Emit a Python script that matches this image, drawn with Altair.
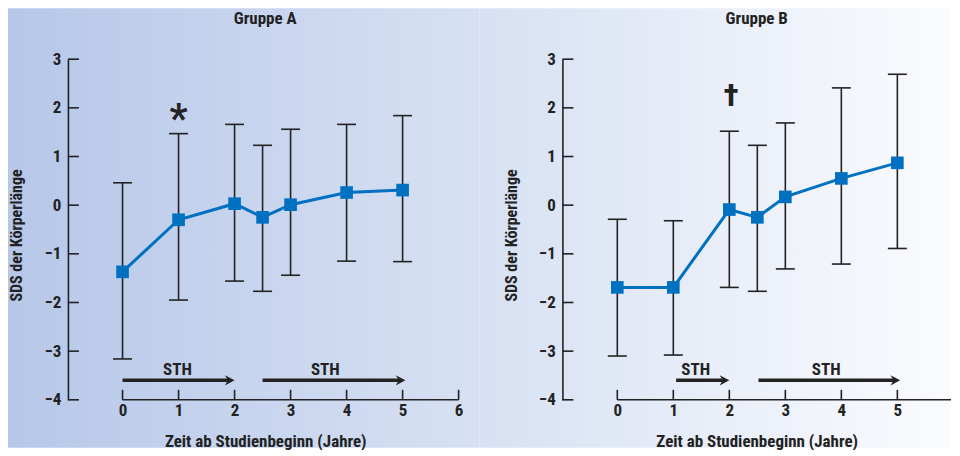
import altair as alt
import pandas as pd

# ---------------- data ----------------
years = [0, 1, 2, 2.5, 3, 4, 5]

mean_a = [-1.37, -0.30, 0.03, -0.25, 0.01, 0.26, 0.31]
lo_a = [-3.16, -1.95, -1.56, -1.77, -1.44, -1.15, -1.16]
hi_a = [0.46, 1.47, 1.66, 1.23, 1.56, 1.66, 1.84]

mean_b = [-1.69, -1.69, -0.09, -0.25, 0.17, 0.55, 0.87]
lo_b = [-3.10, -3.08, -1.69, -1.77, -1.31, -1.21, -0.89]
hi_b = [-0.29, -0.32, 1.52, 1.23, 1.69, 2.41, 2.69]

y_ticks = [-4, -3, -2, -1, 0, 1, 2, 3]
x_ticks_a = [0, 1, 2, 3, 4, 5, 6]
x_ticks_b = [0, 1, 2, 3, 4, 5]

sth_start_a = [0, 2.5]
sth_end_a = [2, 5.05]
sth_label_x_a = [0.98, 3.62]
sth_start_b = [1.05, 2.52]
sth_end_b = [2, 5.05]
sth_label_x_b = [1.4, 3.73]
sth_y = -3.6
sth_label_y = -3.48
sth_text = "STH"

sig_a = ["*", 1.0, 1.89]
sig_b = ["\u2020", 2.03, 2.25]

titles = ["Gruppe A", "Gruppe B"]
x_title = "Zeit ab Studienbeginn (Jahre)"
y_title = "SDS der K\u00f6rperl\u00e4nge"

# ---------------- style ----------------
FONT = "Liberation Sans Narrow, Roboto Condensed, DejaVu Sans Condensed, Arial Narrow, sans-serif"
INK = "#222222"
BLUE = "#0070c0"
UNIT = 56.07          # pixels per year
H = 341               # plot height
ARROW = "M0,0 L-1.7,-0.9 L-1.15,0 L-1.7,0.9 Z"


def panel(title, mean, lo, hi, xticks, s_start, s_end, s_lx, sig,
          x_min, W, rect_x, rect_x2, stops, clamp):
    xs = alt.Scale(domain=[x_min, x_min + W / UNIT], nice=False, zero=False, clamp=clamp)
    ys = alt.Scale(domain=[-4, 3], nice=False, zero=False)
    xaxis = alt.Axis(values=xticks, domain=False, ticks=False, tickSize=0, grid=False,
                     labelPadding=3, labelFontSize=17, format="d", zindex=1,
                     title=x_title, titleY=47, titleBaseline="alphabetic",
                     titleFontSize=17)
    yaxis = alt.Axis(values=y_ticks, domain=True, domainColor=INK, domainWidth=1.6,
                     ticks=False, tickSize=0, grid=False, labelPadding=7,
                     labelFontSize=17, format="d", zindex=1,
                     title=y_title, titleX=-51, titleY=176, titleAngle=270,
                     titleAlign="center", titleBaseline="middle", titleFontSize=16)

    def X(f):
        return alt.X(f, type="quantitative", scale=xs, axis=xaxis)

    def Y(f):
        return alt.Y(f, type="quantitative", scale=ys, axis=yaxis)

    df = pd.DataFrame({"x": years, "mean": mean, "lo": lo, "hi": hi})
    one = pd.DataFrame({"t": [title]})

    bg = alt.Chart(one).mark_rect(
        fill=alt.Gradient(gradient="linear", stops=stops, x1=0, x2=1, y1=0, y2=0)
    ).encode(x=alt.value(rect_x), x2=alt.value(rect_x2),
             y=alt.value(-51), y2=alt.value(H + 48))

    ytick = alt.Chart(pd.DataFrame({"v": y_ticks})).mark_rule(
        color=INK, strokeWidth=1.6
    ).encode(y=Y("v"), x=alt.value(0), x2=alt.value(11))

    xline = alt.Chart(pd.DataFrame({"s": [0], "e": [6]})).mark_rule(
        color=INK, strokeWidth=1.6
    ).encode(x=X("s"), x2=alt.X2("e"), y=alt.value(H))

    xtick = alt.Chart(pd.DataFrame({"v": xticks})).mark_rule(
        color=INK, strokeWidth=1.6
    ).encode(x=X("v"), y=alt.value(H), y2=alt.value(H - 10))

    err = alt.Chart(df).mark_rule(color=INK, strokeWidth=1.6).encode(
        x=X("x"), y=Y("lo"), y2=alt.Y2("hi"))

    caps = alt.Chart(df).transform_fold(["lo", "hi"]).mark_tick(
        color=INK, orient="horizontal", size=19, thickness=1.6, opacity=1
    ).encode(x=X("x"), y=Y("value"))

    line = alt.Chart(df).mark_line(color=BLUE, strokeWidth=3).encode(
        x=X("x"), y=Y("mean"))

    pts = alt.Chart(df).mark_square(color=BLUE, size=160, opacity=1, filled=True).encode(
        x=X("x"), y=Y("mean"))

    arr_df = pd.DataFrame({"s": s_start, "e": s_end, "y": [sth_y] * len(s_start),
                           "lx": s_lx, "ly": [sth_label_y] * len(s_start),
                           "t": [sth_text] * len(s_start)})
    arr_line = alt.Chart(arr_df).transform_calculate(
        eline="datum.e - 0.1"
    ).mark_rule(color=INK, strokeWidth=3.5).encode(
        x=X("s"), x2=alt.X2("eline"), y=Y("y"))
    arr_head = alt.Chart(arr_df).mark_point(
        shape=ARROW, size=130, filled=True, color=INK, opacity=1, strokeWidth=0
    ).encode(x=X("e"), y=Y("y"))
    arr_txt = alt.Chart(arr_df).mark_text(
        font=FONT, fontSize=17, fontWeight="bold", color=INK, baseline="alphabetic"
    ).encode(x=X("lx"), y=Y("ly"), text="t:N")

    sig_df = pd.DataFrame({"t": [sig[0]], "x": [sig[1]], "y": [sig[2]]})
    if sig[0] == "*":
        sig_mark = alt.Chart(sig_df).mark_text(
            font=FONT, fontSize=40, fontWeight="bold", color=INK,
            baseline="alphabetic", dy=19)
    else:
        sig_mark = alt.Chart(sig_df).mark_text(
            font=FONT, fontSize=32, fontWeight="bold", color=INK,
            baseline="alphabetic", dy=10)
    sig_mark = sig_mark.encode(x=X("x"), y=Y("y"), text="t:N")

    ttl = alt.Chart(one).mark_text(
        font=FONT, fontSize=17, fontWeight="bold", color=INK, baseline="alphabetic"
    ).encode(x=alt.value(W / 2), y=alt.value(-35.7), text="t:N")

    return alt.layer(bg, ytick, xline, xtick, err, caps, line, pts,
                     arr_line, arr_head, arr_txt, sig_mark, ttl).properties(
        width=W, height=H)


WA = 395
WB = 389
stops_a = [alt.GradientStop(color="#b6c7e8", offset=0),
           alt.GradientStop(color="#c7d4ee", offset=0.5),
           alt.GradientStop(color="#d7e1f3", offset=1)]
stops_b = [alt.GradientStop(color="#d7e1f3", offset=0),
           alt.GradientStop(color="#e9eef8", offset=0.5),
           alt.GradientStop(color="#fafbfe", offset=1)]

pa = panel(titles[0], mean_a, lo_a, hi_a, x_ticks_a, sth_start_a, sth_end_a,
           sth_label_x_a, sig_a, -0.975, WA, -60, 412, stops_a, False)
pb = panel(titles[1], mean_b, lo_b, hi_b, x_ticks_b, sth_start_b, sth_end_b,
           sth_label_x_b, sig_b, -0.98, WB, -83, WB, stops_b, True)

chart = alt.hconcat(pa, pb, spacing=100, bounds="flush").properties(
    padding=0
).configure_view(stroke=None).configure_axis(
    labelFont=FONT, titleFont=FONT, labelColor=INK, titleColor=INK,
    labelFontWeight="bold", titleFontWeight="bold"
)

chart.save("out.html", embed_options={"renderer": "svg", "actions": False})
